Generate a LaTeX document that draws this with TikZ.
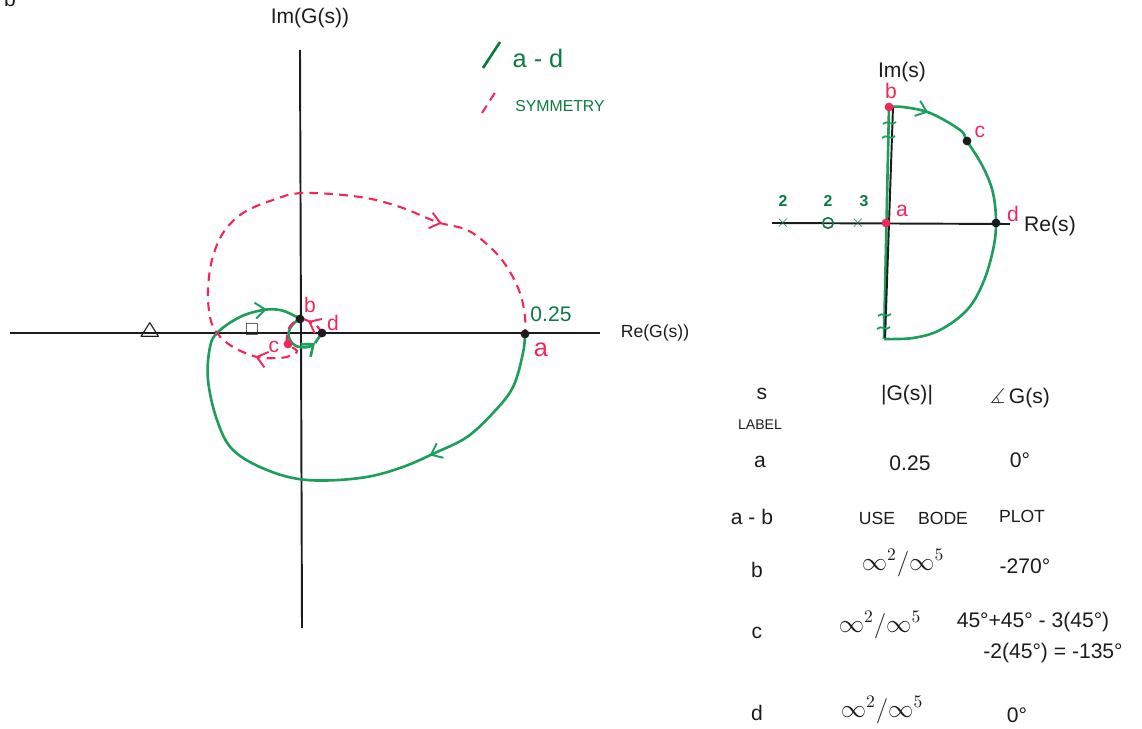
\documentclass[tikz,border=0pt]{standalone}
\usepackage{amssymb}
\usepackage{fontspec}
\setmainfont{Liberation Sans}
\usetikzlibrary{arrows.meta,decorations.markings}
\definecolor{nyqgreen}{HTML}{1E9E5A}
\definecolor{nyqdark}{HTML}{0B7A40}
\definecolor{nyqred}{HTML}{F0285A}
\definecolor{nyqink}{HTML}{1C1C1C}
\tikzset{
  axis/.style={line width=1.1pt, color=nyqink},
  gline/.style={line width=1.5pt, color=nyqgreen},
  rline/.style={line width=1.2pt, color=nyqred, dash pattern=on 5pt off 3.5pt},
  barb/.style={-{Straight Barb[length=2mm, width=3.2mm]}},
  midarr/.style={postaction={decorate, decoration={markings, mark=at position #1 with {\arrow[line width=1.1pt]{Straight Barb[length=2mm, width=3.2mm]}}}}},
  dot/.style={circle, fill=#1, inner sep=0pt, minimum size=5pt},
  lbl/.style={font=\large, color=nyqred, inner sep=1pt},
  txt/.style={font=\large, color=nyqink, inner sep=1pt},
  gtxt/.style={font=\large, color=nyqdark, inner sep=1pt},
}
\begin{document}
\begin{tikzpicture}[x=0.02cm, y=-0.02cm]
  \useasboundingbox (0,0) rectangle (1142,729);
  \node[txt] (corner) at (10,-1) {b};
  % G(s) plane
  \coordinate (reL) at (10,333); \coordinate (reR) at (600,333);
  \coordinate (imT) at (300,50); \coordinate (imB) at (302,628);
  \draw[axis] (reL) -- (reR); \draw[axis] (imT) -- (imB);
  \node[txt, font=\normalsize] (relbl) at (655,333) {Re(G(s))};
  \node[txt] (imlbl) at (310,18) {Im(G(s))};
  \node[txt, font=\large\boldmath] (tri) at (150,332) {$\triangle$};
  \node[txt, font=\normalsize\boldmath] (sq) at (252,330) {$\square$};
  \coordinate (ga) at (525,334); \coordinate (gb) at (300,319);
  \coordinate (gc) at (288,344); \coordinate (gd) at (322,333);
  \coordinate (gtip) at (315,343); \coordinate (rtip) at (308,321);
  \draw[gline, midarr=0.28, midarr=0.94] plot[smooth, tension=0.6] coordinates {(ga) (523,353) (513,387) (493,413) (467,437) (437,452) (400,468) (360,478) (307,480) (267,470) (233,450) (217,420) (208,380) (210,347) (218,332) (240,317) (263,310) (280,310) (293,315) (gb)};
  \draw[gline, barb] (gb) .. controls (286,326) and (285,340) .. (296,346) .. controls (303,349) and (310,347) .. (gtip);
  \draw[gline] (gtip) -- (gd);
  \draw[rline] (gd) .. controls (318,326) and (314,322) .. (rtip);
  \draw[nyqred, line width=1.1pt, barb] (gd) ++(-10,-10) -- (rtip);
  \draw[rline, midarr=0.15, midarr=0.76] plot[smooth, tension=0.6] coordinates {(rtip) (301,319) (291,325) (287,335) (gc) (297,351) (290,356) (278,358) (257,357) (233,347) (217,333) (210,317) (208,290) (212,260) (223,233) (243,213) (273,200) (303,193) (360,197) (400,207) (437,222) (467,230) (490,247) (507,267) (520,293) (525,317) (ga)};
  \node[dot=nyqink] (pa) at (ga) {}; \node[dot=nyqink] (pb) at (gb) {};
  \node[dot=nyqred] (pc) at (gc) {}; \node[dot=nyqink] (pd) at (gd) {};
  \node[lbl, font=\Large] (la) at (541,350) {a};
  \node[gtxt] (l025) at (551,314) {0.25};
  \node[lbl] (lb) at (310,305) {b};
  \node[lbl] (ld) at (333,323) {d};
  \node[lbl] (lc) at (274,347) {c};
  % legend
  \coordinate (lgA) at (483,68); \coordinate (lgB) at (500,42);
  \coordinate (lgC) at (482,113); \coordinate (lgD) at (496,91);
  \draw[gline, color=nyqdark] (lgA) -- (lgB);
  \node[gtxt, font=\Large] (lgad) at (538,58) {a - d};
  \draw[rline] (lgC) -- (lgD);
  \node[gtxt, font=\small] (lgsym) at (560,106) {SYMMETRY};
  % s plane
  \coordinate (sb) at (889,107); \coordinate (sa) at (886,223);
  \coordinate (sc) at (967,141); \coordinate (sd) at (996,223);
  \coordinate (sbot) at (884,339);
  \draw[gline] (sb) -- (sbot);
  \draw[axis] (772,223) -- (1010,224); \draw[axis] (893,107) -- (885,340);
  \draw[gline, midarr=0.11] plot[smooth, tension=0.6] coordinates {(sb) (903,107) (930,113) (960,130) (sc) (983,167) (993,193) (sd) (993,250) (983,283) (967,310) (940,330) (913,338) (sbot)};
  \foreach \x/\y in {891/123, 890/137, 886/315, 885/328}
    \draw[gline, line width=1pt] (\x-8,\y+1) .. controls (\x-4,\y-4) and (\x+1,\y+4) .. (\x+5,\y-1);
  \node[gtxt, font=\normalsize, inner sep=0pt] (p1) at (783,223) {$\times$};
  \node[draw=nyqdark, circle, line width=0.9pt, minimum size=6pt, inner sep=0pt] (z1) at (828,223) {};
  \node[gtxt, font=\normalsize, inner sep=0pt] (p2) at (858,223) {$\times$};
  \node[gtxt, font=\small\bfseries] (m1) at (783,201) {2};
  \node[gtxt, font=\small\bfseries] (m2) at (828,201) {2};
  \node[gtxt, font=\small\bfseries] (m3) at (864,201) {3};
  \node[dot=nyqred] (qb) at (sb) {}; \node[dot=nyqred] (qa) at (sa) {};
  \node[dot=nyqink] (qc) at (sc) {}; \node[dot=nyqink] (qd) at (sd) {};
  \node[lbl] (sbl) at (891,91) {b};
  \node[lbl] (scl) at (980,132) {c};
  \node[lbl] (sal) at (902,211) {a};
  \node[lbl] (sdl) at (1013,214) {d};
  \node[txt] (simlbl) at (902,72) {Im(s)};
  \node[txt] (srelbl) at (1050,226) {Re(s)};
  % table
  \node[txt] (hs) at (762,394) {s};
  \node[txt, font=\footnotesize] (hlabel) at (760,425) {LABEL};
  \node[txt] (hmag) at (907,395) {|G(s)|};
  \node[txt] (hang) at (1020,398) {$\measuredangle$\,G(s)};
  \node[txt] (ra) at (760,462) {a};
  \node[txt] (ra2) at (910,463) {0.25};
  \node[txt] (ra3) at (1020,460) {0°};
  \node[txt] (rab) at (752,517) {a - b};
  \node[txt, font=\normalsize] (rab1) at (877,518) {USE};
  \node[txt, font=\normalsize] (rab2) at (943,518) {BODE};
  \node[txt, font=\normalsize] (rab3) at (1022,516) {PLOT};
  \node[txt] (rb) at (757,570) {b};
  \node[txt, font=\Large] (rb2) at (903,563) {$\infty^2/\infty^5$};
  \node[txt] (rb3) at (1025,566) {-270°};
  \node[txt] (rc) at (757,633) {c};
  \node[txt, font=\Large] (rc2) at (880,625) {$\infty^2/\infty^5$};
  \node[txt] (rc3) at (1033,622) {45°+45° - 3(45°)};
  \node[txt] (rc4) at (1053,653) {-2(45°) = -135°};
  \node[txt] (rd) at (757,713) {d};
  \node[txt, font=\Large] (rd2) at (882,710) {$\infty^2/\infty^5$};
  \node[txt] (rd3) at (1017,715) {0°};
\end{tikzpicture}
\end{document}
